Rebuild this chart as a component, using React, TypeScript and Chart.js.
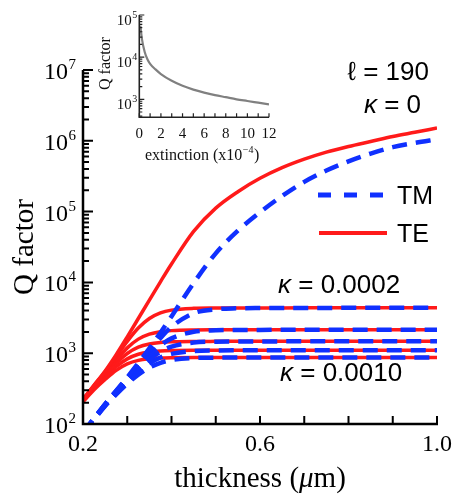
import React, { useEffect, useRef } from "react";
import { Chart, registerables } from "chart.js";

Chart.register(...registerables);

// ---------- main chart data ----------
const thickness = [0.2, 0.225, 0.25, 0.275, 0.3, 0.325, 0.35, 0.375, 0.4, 0.45, 0.5, 0.55, 0.6, 0.65, 0.7, 0.75, 0.8, 0.85, 0.9, 0.95, 1.0];

const teK0 = [224, 355, 562, 955, 1700, 3090, 5620, 10200, 18200, 52500, 112000, 191000, 295000, 417000, 550000, 692000, 832000, 977000, 1148000, 1318000, 1514000];
const teK2 = [222, 350, 545, 895, 1470, 2264, 3086, 3709, 4057, 4301, 4348, 4360, 4365, 4367, 4368, 4369, 4369, 4370, 4370, 4370, 4370];
const teK4 = [219, 340, 517, 803, 1189, 1580, 1859, 2014, 2084, 2128, 2136, 2138, 2139, 2139, 2140, 2140, 2140, 2140, 2140, 2140, 2140];
const teK6 = [216, 329, 488, 721, 991, 1217, 1352, 1419, 1448, 1465, 1469, 1470, 1470, 1470, 1470, 1470, 1470, 1470, 1470, 1470, 1470];
const teK8 = [211, 317, 457, 643, 832, 967, 1041, 1075, 1089, 1098, 1099, 1100, 1100, 1100, 1100, 1100, 1100, 1100, 1100, 1100, 1100];
const teK10 = [206, 304, 425, 573, 706, 793, 836, 856, 864, 869, 869, 870, 870, 870, 870, 870, 870, 870, 870, 870, 870];

const tmK0 = [76, 120, 191, 295, 457, 724, 1175, 1950, 3311, 9772, 25700, 53700, 97700, 166000, 263000, 380000, 513000, 661000, 813000, 933000, 1047000];
const tmK2 = [76, 120, 190, 292, 447, 693, 1077, 1639, 2362, 3670, 4177, 4304, 4343, 4358, 4364, 4366, 4368, 4368, 4369, 4369, 4369];
const tmK4 = [76, 119, 188, 285, 429, 642, 936, 1285, 1619, 2005, 2106, 2129, 2135, 2138, 2139, 2139, 2139, 2140, 2140, 2140, 2140];
const tmK6 = [75, 118, 185, 279, 411, 594, 820, 1051, 1237, 1415, 1457, 1466, 1468, 1469, 1469, 1470, 1470, 1470, 1470, 1470, 1470];
const tmK8 = [75, 117, 182, 270, 390, 544, 716, 869, 979, 1073, 1094, 1098, 1099, 1099, 1100, 1100, 1100, 1100, 1100, 1100, 1100];
const tmK10 = [75, 116, 179, 262, 369, 497, 626, 731, 800, 855, 866, 869, 869, 870, 870, 870, 870, 870, 870, 870, 870];

const teSeries = [teK0, teK2, teK4, teK6, teK8, teK10];
const tmSeries = [tmK0, tmK2, tmK4, tmK6, tmK8, tmK10];

const xTickValues = [0.2, 0.3, 0.4, 0.5, 0.6, 0.7, 0.8, 0.9, 1.0];
const xLabelValues = [0.2, 0.6, 1.0];
const xLabelTexts = ["0.2", "0.6", "1.0"];
const yDecades = [2, 3, 4, 5, 6, 7];

// ---------- inset data ----------
const extinction = [0.1, 0.25, 0.5, 0.75, 1, 1.5, 2, 3, 4, 5, 6, 7, 8, 9, 10, 11, 12];
const insetQ = [56200, 26300, 13200, 8910, 6920, 5130, 3980, 2750, 2090, 1700, 1445, 1259, 1122, 1000, 912, 832, 759];
const insetXTicks = [0, 1, 2, 3, 4, 5, 6, 7, 8, 9, 10, 11, 12];
const insetXLabels = [0, 2, 4, 6, 8, 10, 12];
const insetDecades = [3, 4, 5];

const SERIF = '"Liberation Serif", "Times New Roman", serif';
const SANS = '"Liberation Sans", Arial, "DejaVu Sans", sans-serif';
const RED = "#ff1a1a";
const BLUE = "#1030ff";

function pts(xs: number[], ys: number[]) {
  return xs.map((x, i) => ({ x, y: ys[i] }));
}

function drawPow(ctx: CanvasRenderingContext2D, xRight: number, base: string, baseFont: string, supFont: string, baseY: number, supY: number, exp: string) {
  ctx.textBaseline = "alphabetic";
  ctx.font = baseFont;
  ctx.textAlign = "right";
  ctx.fillText(base, xRight, baseY);
  ctx.font = supFont;
  ctx.textAlign = "left";
  ctx.fillText(exp, xRight + 0.5, supY);
}

const mainDeco = {
  id: "mainDeco",
  afterDraw(chart: any) {
    const ctx: CanvasRenderingContext2D = chart.ctx;
    const a = chart.chartArea;
    const xs = chart.scales.x;
    const ys = chart.scales.y;
    ctx.save();
    ctx.strokeStyle = "#000";
    ctx.fillStyle = "#000";
    ctx.lineCap = "butt";
    // ticks
    ctx.lineWidth = 2;
    ctx.beginPath();
    xTickValues.forEach((v) => {
      const px = xs.getPixelForValue(v);
      ctx.moveTo(px, a.bottom);
      ctx.lineTo(px, a.bottom - 8);
    });
    yDecades.forEach((d) => {
      const py = ys.getPixelForValue(Math.pow(10, d));
      ctx.moveTo(a.left, py);
      ctx.lineTo(a.left + 10, py);
      if (d < 7) {
        for (let m = 2; m <= 9; m++) {
          const pm = ys.getPixelForValue(m * Math.pow(10, d));
          ctx.moveTo(a.left, pm);
          ctx.lineTo(a.left + 6, pm);
        }
      }
    });
    ctx.stroke();
    // axes
    ctx.lineWidth = 2.5;
    ctx.beginPath();
    ctx.moveTo(a.left, a.top);
    ctx.lineTo(a.left, a.bottom);
    ctx.lineTo(a.right + 1, a.bottom);
    ctx.stroke();

    // y tick labels
    yDecades.forEach((d) => {
      const py = ys.getPixelForValue(Math.pow(10, d));
      drawPow(ctx, 68, "10", `24px ${SERIF}`, `15px ${SERIF}`, py + 9, py - 1, String(d));
    });
    // x tick labels
    ctx.font = `24px ${SERIF}`;
    ctx.textAlign = "center";
    ctx.textBaseline = "alphabetic";
    xLabelValues.forEach((v, i) => {
      ctx.fillText(xLabelTexts[i], xs.getPixelForValue(v), 451);
    });
    // x title
    {
      const f1 = `29px ${SERIF}`;
      const f2 = `italic 29px ${SERIF}`;
      ctx.font = f1;
      const w1 = ctx.measureText("thickness (").width;
      const w3 = ctx.measureText("m)").width;
      ctx.font = f2;
      const w2 = ctx.measureText("\u03bc").width;
      const cx = (a.left + a.right) / 2;
      const x0 = cx - (w1 + w2 + w3) / 2;
      ctx.textAlign = "left";
      ctx.font = f1;
      ctx.fillText("thickness (", x0, 487);
      ctx.font = f2;
      ctx.fillText("\u03bc", x0 + w1, 487);
      ctx.font = f1;
      ctx.fillText("m)", x0 + w1 + w2, 487);
    }
    // y title
    ctx.save();
    ctx.translate(33, (a.top + a.bottom) / 2);
    ctx.rotate(-Math.PI / 2);
    ctx.font = `29px ${SERIF}`;
    ctx.textAlign = "center";
    ctx.textBaseline = "alphabetic";
    ctx.fillText("Q factor", 0, 0);
    ctx.restore();

    // annotations
    const kappaText = (x: number, y: number, rest: string, alignRight: boolean) => {
      const fi = `italic 26px ${SANS}`;
      const fn = `26px ${SANS}`;
      ctx.font = fi;
      const wk = ctx.measureText("\u03ba").width;
      ctx.font = fn;
      const wr = ctx.measureText(rest).width;
      const x0 = alignRight ? x - wk - wr : x;
      ctx.textAlign = "left";
      ctx.font = fi;
      ctx.fillText("\u03ba", x0, y);
      ctx.font = fn;
      ctx.fillText(rest, x0 + wk, y);
    };
    ctx.textBaseline = "alphabetic";
    ctx.font = `26px ${SANS}`;
    ctx.textAlign = "right";
    ctx.fillText("\u2113 = 190", 429, 80);
    kappaText(421, 113, " = 0", true);
    kappaText(278, 293, " = 0.0002", false);
    kappaText(280, 381, " = 0.0010", false);

    // legend
    ctx.lineCap = "butt";
    ctx.strokeStyle = BLUE;
    ctx.lineWidth = 5;
    ctx.setLineDash([13, 13]);
    ctx.beginPath();
    ctx.moveTo(318, 195);
    ctx.lineTo(385, 195);
    ctx.stroke();
    ctx.setLineDash([]);
    ctx.strokeStyle = RED;
    ctx.lineWidth = 4;
    ctx.beginPath();
    ctx.moveTo(319, 233);
    ctx.lineTo(387, 233);
    ctx.stroke();
    ctx.fillStyle = "#000";
    ctx.font = `25px ${SANS}`;
    ctx.textAlign = "left";
    ctx.fillText("TM", 397, 204);
    ctx.fillText("TE", 397, 242);
    ctx.restore();
  },
};

const insetDeco = {
  id: "insetDeco",
  afterDraw(chart: any) {
    const ctx: CanvasRenderingContext2D = chart.ctx;
    const a = chart.chartArea;
    const xs = chart.scales.x;
    const ys = chart.scales.y;
    ctx.save();
    ctx.strokeStyle = "#222";
    ctx.fillStyle = "#111";
    ctx.lineWidth = 1.2;
    ctx.beginPath();
    insetXTicks.forEach((v) => {
      const px = xs.getPixelForValue(v);
      ctx.moveTo(px, a.bottom);
      ctx.lineTo(px, a.bottom - 4);
    });
    insetDecades.forEach((d) => {
      const py = ys.getPixelForValue(Math.pow(10, d));
      ctx.moveTo(a.left, py);
      ctx.lineTo(a.left + 5, py);
    });
    [2, 3, 4].forEach((d) => {
      for (let m = 2; m <= 9; m++) {
        const v = m * Math.pow(10, d);
        if (v < ys.min || v > ys.max) continue;
        const pm = ys.getPixelForValue(v);
        ctx.moveTo(a.left, pm);
        ctx.lineTo(a.left + 3, pm);
      }
    });
    ctx.stroke();
    ctx.lineWidth = 1.6;
    ctx.beginPath();
    ctx.moveTo(a.left, a.top);
    ctx.lineTo(a.left, a.bottom);
    ctx.lineTo(a.right, a.bottom);
    ctx.stroke();

    insetDecades.forEach((d) => {
      const py = ys.getPixelForValue(Math.pow(10, d));
      drawPow(ctx, a.left - 7.5, "10", `15px ${SERIF}`, `10px ${SERIF}`, py + 10, py + 3, String(d));
    });
    ctx.font = `15px ${SERIF}`;
    ctx.textAlign = "center";
    ctx.textBaseline = "alphabetic";
    insetXLabels.forEach((v) => {
      ctx.fillText(String(v), xs.getPixelForValue(v), 138);
    });
    // x title
    {
      const f1 = `16px ${SERIF}`;
      const f2 = `10px ${SERIF}`;
      ctx.textAlign = "left";
      ctx.font = f1;
      const t1 = "extinction (x10";
      const w1 = ctx.measureText(t1).width;
      ctx.fillText(t1, 50, 160);
      ctx.font = f2;
      const w2 = ctx.measureText("\u22124").width;
      ctx.fillText("\u22124", 50 + w1 + 0.5, 153);
      ctx.font = f1;
      ctx.fillText(")", 50 + w1 + w2 + 1, 160);
    }
    ctx.save();
    ctx.translate(15, 63.5);
    ctx.rotate(-Math.PI / 2);
    ctx.font = `16px ${SERIF}`;
    ctx.textAlign = "center";
    ctx.fillText("Q factor", 0, 0);
    ctx.restore();
    ctx.restore();
  },
};

export default function App() {
  const mainRef = useRef<HTMLCanvasElement>(null);
  const insetRef = useRef<HTMLCanvasElement>(null);

  useEffect(() => {
    const datasets: any[] = [];
    tmSeries.forEach((s, i) => {
      datasets.push({
        label: `TM ${i}`,
        data: pts(thickness, s),
        borderColor: BLUE,
        borderWidth: 4.5,
        borderDash: [15, 9],
        pointRadius: 0,
        fill: false,
        cubicInterpolationMode: "monotone",
        order: 1,
      });
    });
    teSeries.forEach((s, i) => {
      datasets.push({
        label: `TE ${i}`,
        data: pts(thickness, s),
        borderColor: RED,
        borderWidth: 3.5,
        pointRadius: 0,
        fill: false,
        cubicInterpolationMode: "monotone",
        order: 2,
      });
    });

    const main = new Chart(mainRef.current!, {
      type: "line",
      data: { datasets },
      options: {
        responsive: false,
        animation: false,
        devicePixelRatio: 1,
        layout: { padding: { left: 83, top: 70, right: 17, bottom: 72 } },
        plugins: { legend: { display: false }, tooltip: { enabled: false }, title: { display: false } },
        scales: {
          x: { type: "linear", min: 0.2, max: 1.0, display: false },
          y: { type: "logarithmic", min: 100, max: 1e7, display: false },
        },
      },
      plugins: [mainDeco],
    } as any);

    const inset = new Chart(insetRef.current!, {
      type: "line",
      data: {
        datasets: [
          {
            label: "Q",
            data: pts(extinction, insetQ),
            borderColor: "#808080",
            borderWidth: 2.2,
            pointRadius: 0,
            fill: false,
            cubicInterpolationMode: "monotone",
          },
        ],
      },
      options: {
        responsive: false,
        animation: false,
        devicePixelRatio: 1,
        layout: { padding: { left: 44.3, top: 15, right: 11, bottom: 52.7 } },
        plugins: { legend: { display: false }, tooltip: { enabled: false }, title: { display: false } },
        scales: {
          x: { type: "linear", min: 0, max: 12, display: false },
          y: { type: "logarithmic", min: 374, max: 1e5, display: false },
        },
      },
      plugins: [insetDeco],
    } as any);

    return () => {
      main.destroy();
      inset.destroy();
    };
  }, []);

  return (
    <div style={{ position: "fixed", left: 0, top: 0, width: 454, height: 496, background: "#fff" }}>
      <canvas ref={mainRef} width={454} height={496} style={{ position: "absolute", left: 0, top: 0, display: "block" }} />
      <canvas ref={insetRef} width={185} height={170} style={{ position: "absolute", left: 95, top: 0, display: "block" }} />
    </div>
  );
}
